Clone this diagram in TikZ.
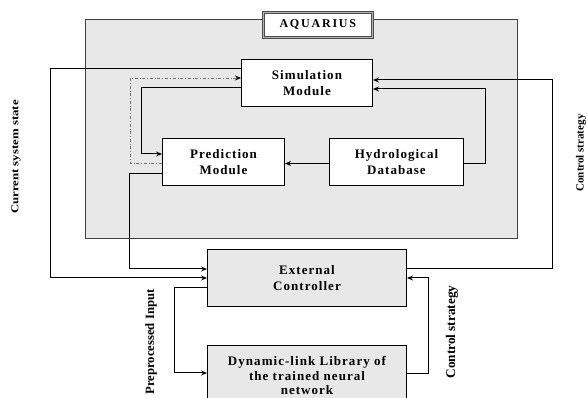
\documentclass[tikz,border=0pt]{standalone}
\usepackage{fontspec}
\setmainfont{Liberation Serif}
\newfontfamily\spc[LetterSpace=8]{Liberation Serif}
\newfontfamily\spcw[LetterSpace=15]{Liberation Serif}
\usetikzlibrary{arrows.meta,calc}
\definecolor{boxgray}{HTML}{E8E8E8}
\tikzset{
  box/.style={draw=black, line width=1pt, inner sep=0pt, anchor=north west, align=center,
    font=\spc\bfseries\fontsize{13}{15.5}\selectfont},
  whitebox/.style={box, fill=white},
  graybox/.style={box, fill=boxgray},
  arr/.style={draw=black, line width=1pt, -{Stealth[length=6pt,width=5pt]}},
  dotarr/.style={draw=black!55, line width=0.6pt, dash pattern=on 3pt off 2pt on 0.6pt off 2pt,
    -{Stealth[length=6pt,width=5pt,black]}},
  lbl/.style={rotate=90, inner sep=0pt, font=\bfseries}
}
\begin{document}
\begin{tikzpicture}[x=1pt, y=-1pt]
\useasboundingbox (0,0) rectangle (587,398);
\clip (0,0) rectangle (587,398);
% big AQUARIUS frame
\node[draw=black!75, line width=0.9pt, fill=boxgray, inner sep=0pt, anchor=north west,
  minimum width=432pt, minimum height=219pt] (aq) at (85,19) {};
\node[draw=black!70, line width=0.7pt, double=black!30, double distance=1.4pt, fill=white,
  inner sep=0pt, anchor=north west, minimum width=109pt, minimum height=25pt,
  font=\spcw\bfseries\fontsize{12}{14}\selectfont] (title) at (263,12) {AQUARIUS};
% modules
\node[whitebox, minimum width=131pt, minimum height=47pt] (sim) at (241,59) {Simulation\\Module};
\node[whitebox, minimum width=122pt, minimum height=47pt] (pred) at (162,138) {Prediction\\Module};
\node[whitebox, minimum width=134pt, minimum height=47pt] (hydro) at (329,138) {Hydrological\\Database};
\node[graybox, minimum width=199pt, minimum height=57pt] (ec) at (207,249) {External\\Controller};
\node[graybox, minimum width=199pt, minimum height=60pt,
  font=\spc\bfseries\fontsize{13}{14.5}\selectfont] (dll) at (207,345) {Dynamic-link Library of\\the trained neural\\network};
% helper coordinates
\coordinate (c1) at (50,278);
\coordinate (c2) at (141,154);
\coordinate (c3a) at (130,163);
\coordinate (c3b) at (130,78);
\coordinate (c4) at (129,269);
\coordinate (c6) at (485,89);
\coordinate (c7) at (552,80);
\coordinate (c8) at (428,278);
\coordinate (c9) at (174,373);
% connectors
\draw[arr] ($(sim.west)+(0,-14.5)$) -| (c1) -- (c1 -| ec.west);
\draw[arr] ($(sim.west)+(0,4.5)$) -| (c2) -- (c2 -| pred.west);
\draw[dotarr] (c3a -| pred.west) -- (c3a) -- (c3b) -- (c3b -| sim.west);
\draw[arr] ($(pred.west)+(0,11.5)$) -| (c4) -- (c4 -| ec.west);
\draw[arr] ($(hydro.west)+(0,1.5)$) -- ($(pred.east)+(0,1.5)$);
\draw[arr] ($(hydro.east)+(0,1.5)$) -| (c6) -- (c6 -| sim.east);
\draw[arr] ($(ec.east)+(0,-9.5)$) -| (c7) -- (c7 -| sim.east);
\draw[arr] ($(dll.east)+(0,-2)$) -| (c8) -- (c8 -| ec.east);
\draw[arr] ($(ec.west)+(0,9.5)$) -| (c9) -- (c9 -| dll.west);
% labels
\node[lbl, font=\bfseries\fontsize{10.5}{12}\selectfont] (lcs) at (16,157) {\scalebox{1.22}[1]{Current system state}};
\node[lbl, font=\bfseries\fontsize{12.7}{14}\selectfont] (lpi) at (151,342) {Preprocessed Input};
\node[lbl, font=\bfseries\fontsize{13.3}{15}\selectfont] (lctl) at (452,332) {Control strategy};
\node[lbl, font=\bfseries\fontsize{11}{13}\selectfont] (lctr) at (581,153) {Control strategy};
\end{tikzpicture}
\end{document}
